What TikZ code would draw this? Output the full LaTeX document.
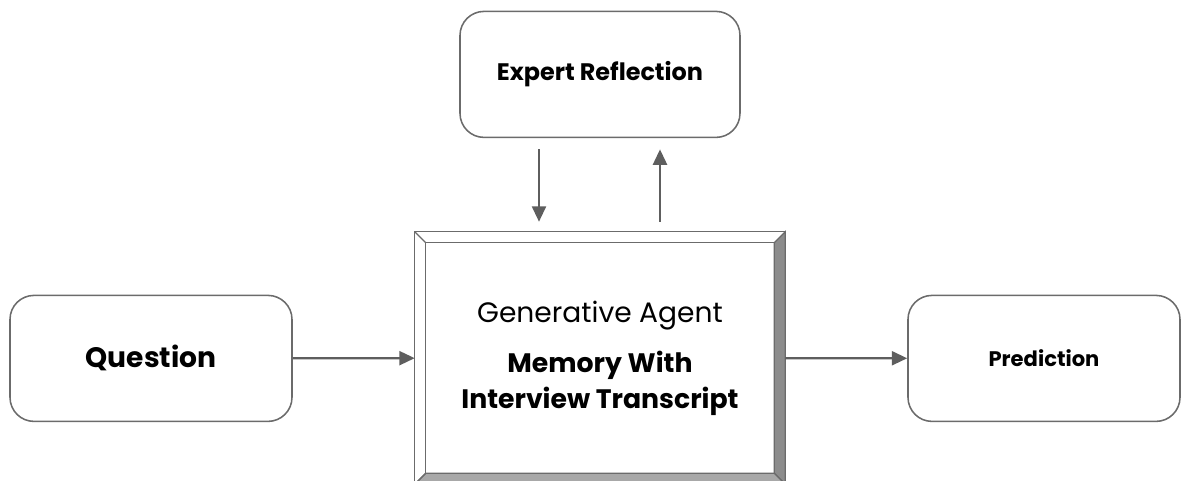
\documentclass[tikz,border=0pt]{standalone}
\usepackage{fontspec}
\setmainfont{Poppins}
\usetikzlibrary{arrows.meta,calc,backgrounds}
\definecolor{linegray}{HTML}{6B6B6B}
\definecolor{arrowgray}{HTML}{5E5E5E}
\definecolor{bevelgray}{HTML}{8C8C8C}
\definecolor{bevellight}{HTML}{A8A8A8}

\begin{document}
\begin{tikzpicture}[
  roundbox/.style={draw=linegray, line width=1.1pt, rounded corners=0.6cm,
    minimum height=3.15cm, align=center},
  flow/.style={draw=arrowgray, line width=1.6pt, -{Triangle[length=11pt,width=10pt]}},
  bevel/.style={draw=linegray, line width=0.9pt}
]
\useasboundingbox (0,0) rectangle (29.55,12);

\node[roundbox, minimum width=7cm, font=\bfseries\fontsize{17}{20}\selectfont] (expert) at (15,10.14) {Expert Reflection};
\node[roundbox, minimum width=7.05cm, font=\bfseries\fontsize{20}{24}\selectfont] (question) at (3.775,3.04) {Question};
\node[roundbox, minimum width=6.8cm, font=\bfseries\fontsize{15}{18}\selectfont] (prediction) at (26.1,3.04) {Prediction};

% the framed agent box
\node[minimum width=9.25cm, minimum height=6.3cm, align=center, font=\bfseries\fontsize{19}{25.6}\selectfont] (agent) at (15,3.05)
  {{\mdseries\fontsize{20}{25.6}\selectfont Generative Agent}\\[10pt] Memory With\\Interview Transcript};
\begin{scope}[on background layer]
\draw[bevel, fill=white] (agent.north west) rectangle (agent.south east);
\draw[bevel, fill=bevelgray] (agent.north east) -- (agent.south east) -- ($(agent.south east)+(-0.275,0.275)$) -- ($(agent.north east)+(-0.275,-0.275)$) -- cycle;
\draw[bevel, fill=bevellight] (agent.south west) -- (agent.south east) -- ($(agent.south east)+(-0.275,0.275)$) -- ($(agent.south west)+(0.275,0.275)$) -- cycle;
\draw[bevel] ($(agent.north west)+(0.275,-0.275)$) rectangle ($(agent.south east)+(-0.275,0.275)$);
\draw[bevel] (agent.north west) -- ++(0.275,-0.275);
\draw[bevel] (agent.south west) -- ++(0.275,0.275);
\end{scope}

\draw[flow] (question) -- (agent);
\draw[flow] (agent) -- (prediction);
\draw[flow, shorten <=0.28cm, shorten >=0.25cm] ($(expert.south)+(-1.525,0)$) -- ($(agent.north)+(-1.525,0)$);
\draw[flow, shorten <=0.25cm, shorten >=0.28cm] ($(agent.north)+(1.5,0)$) -- ($(expert.south)+(1.5,0)$);
\end{tikzpicture}
\end{document}
